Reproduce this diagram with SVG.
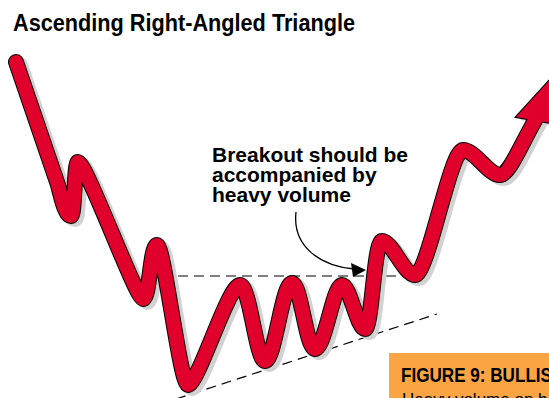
<svg xmlns="http://www.w3.org/2000/svg" width="549" height="398" viewBox="0 0 549 398">
  <style>
    .title { font-family: "Liberation Sans", Arial, sans-serif; font-weight: bold; font-size: 23px; fill: #000; }
    .note { font-family: "Liberation Sans", Arial, sans-serif; font-weight: bold; font-size: 21px; fill: #000; }
    .fig { font-family: "Liberation Sans", Arial, sans-serif; font-weight: bold; font-size: 19.5px; fill: #000; }
    .cap { font-family: "Liberation Sans", Arial, sans-serif; font-size: 17px; fill: #000; }
    .dash { fill: none; stroke: #000; stroke-width: 1.2; stroke-dasharray: 10 6; }
    .shadow { fill: none; stroke: #d2d2d2; stroke-width: 16; stroke-linecap: round; stroke-linejoin: round; }
    .outline { fill: none; stroke: #000; stroke-width: 16; stroke-linecap: round; stroke-linejoin: round; }
    .red { fill: none; stroke: #E0002B; stroke-width: 14; stroke-linecap: round; stroke-linejoin: round; }
  </style>
  <defs>
    <path id="curve" d="M16,62 L58,185 C63,205 66,216 71,216 C75,216 74,162 78,162 C86,162 136,299 143,299 C150,299 150,245 157,245 C164,245 180,385 188,385 C198,385 228,285 240,285 C250,285 256,361 265,361 C275,361 282,283 292,283 C301,283 306,349 315,349 C325,349 333,285 342,285 C350,285 357,329 365,329 C372,329 374,241 382,241 C392,241 404,275 415,275 C428,275 450,150 463,150 C475,150 488,175 500,175 C510,175 525,135 540,112"/>
    <polygon id="head" points="516,117 566,62 580,128"/>
  </defs>

  <g id="title">
    <text class="title" x="13" y="31" textLength="342" lengthAdjust="spacingAndGlyphs">Ascending Right-Angled Triangle</text>
  </g>

  <g id="trendlines">
    <line class="dash" x1="178" y1="276" x2="405" y2="276"/>
    <line class="dash" x1="176" y1="399" x2="437" y2="314"/>
  </g>

  <g id="price-curve">
    <use href="#curve" class="shadow" transform="translate(4,3)"/>
    <use href="#head" fill="#d2d2d2" transform="translate(4,3)"/>
    <use href="#curve" class="outline"/>
    <use href="#head" fill="#000" stroke="#000" stroke-width="2" stroke-linejoin="miter"/>
    <use href="#curve" class="red"/>
    <use href="#head" fill="#E0002B"/>
  </g>

  <g id="annotation">
    <text class="note" x="212" y="162">Breakout should be</text>
    <text class="note" x="212" y="182">accompanied by</text>
    <text class="note" x="212" y="202">heavy volume</text>
  </g>

  <g id="connectors">
    <path d="M296,212 C292,248 322,266 354,269" fill="none" stroke="#000" stroke-width="1.3"/>
    <polygon points="366,270 351,263 353,277" fill="#000"/>
  </g>

  <g id="caption">
    <rect x="389" y="353" width="170" height="50" fill="#FBA443"/>
    <text class="fig" x="401" y="382" textLength="151" lengthAdjust="spacingAndGlyphs">FIGURE 9: BULLIS</text>
    <text class="cap" x="402" y="405">Heavy volume on b</text>
  </g>
</svg>
